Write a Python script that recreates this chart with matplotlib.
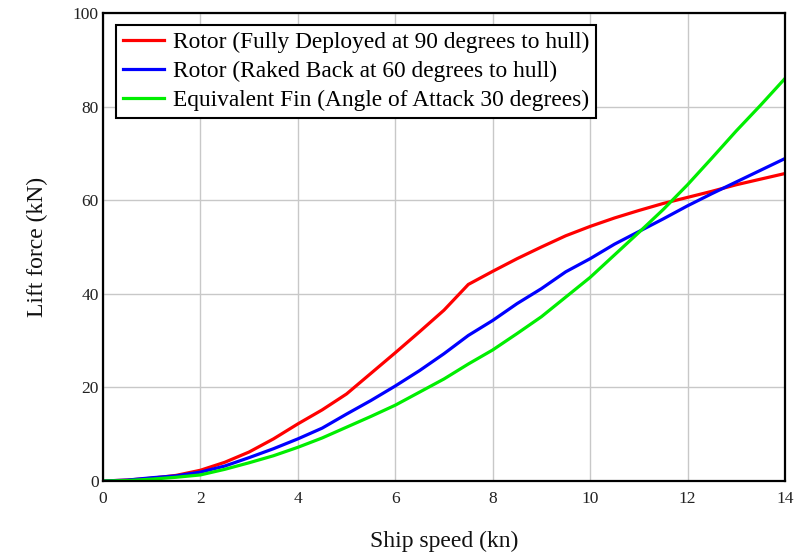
import matplotlib
matplotlib.use("Agg")
import matplotlib.pyplot as plt

speed = [0, 0.5, 1, 1.5, 2, 2.5, 3, 3.5, 4, 4.5, 5, 5.5, 6, 6.5, 7, 7.5, 8,
         8.5, 9, 9.5, 10, 10.5, 11, 11.5, 12, 12.5, 13, 13.5, 14]
rotor_90 = [0, 0.2, 0.6, 1.2, 2.3, 4.0, 6.2, 9.0, 12.2, 15.2, 18.6, 23.0, 27.4,
            31.9, 36.5, 42.0, 44.8, 47.5, 50.0, 52.4, 54.4, 56.2, 57.8, 59.3,
            60.6, 61.9, 63.3, 64.5, 65.7]
rotor_60 = [0, 0.2, 0.7, 1.1, 1.9, 3.2, 5.0, 6.9, 9.0, 11.3, 14.3, 17.2, 20.3,
            23.6, 27.2, 31.1, 34.3, 37.9, 41.1, 44.7, 47.5, 50.6, 53.3, 56.0,
            58.8, 61.4, 63.9, 66.4, 68.9]
fin_30 = [0, 0.1, 0.4, 0.8, 1.3, 2.5, 3.9, 5.4, 7.2, 9.2, 11.5, 13.8, 16.2,
          19.0, 21.8, 25.0, 28.0, 31.5, 35.1, 39.3, 43.5, 48.3, 53.1, 58.0,
          63.3, 69.0, 74.8, 80.3, 86.0]

labels = ["Rotor (Fully Deployed at 90 degrees to hull)",
          "Rotor (Raked Back at 60 degrees to hull)",
          "Equivalent Fin (Angle of Attack 30 degrees)"]
xticks = [0, 2, 4, 6, 8, 10, 12, 14]
yticks = [0, 20, 40, 60, 80, 100]

plt.rcParams['font.family'] = ['Liberation Serif', 'DejaVu Serif']

fig = plt.figure(figsize=(8.12, 5.55), dpi=100)
ax = fig.add_axes([0.1268, 0.1333, 0.8399, 0.8433])

ax.plot(speed, rotor_90, color='#ff0000', lw=2.3, label=labels[0])
ax.plot(speed, rotor_60, color='#0000ff', lw=2.3, label=labels[1])
ax.plot(speed, fin_30, color='#00ee00', lw=2.3, label=labels[2])

ax.set_xlim(0, 14)
ax.set_ylim(0, 100)
ax.set_xticks(xticks)
ax.set_yticks(yticks)
ax.grid(True, color='#c8c8c8', lw=1.0)
ax.set_axisbelow(True)
for s in ax.spines.values():
    s.set_linewidth(1.6)
    s.set_color('black')
ax.tick_params(axis='both', length=0, labelsize=12.5, colors='#222222')
ax.tick_params(axis='x', pad=7)
ax.tick_params(axis='y', pad=3)

ax.set_xlabel("Ship speed (kn)", fontsize=17, labelpad=17, color='#111111')
ax.set_ylabel("Lift force (kN)", fontsize=17, labelpad=18, color='#111111')

leg = ax.legend(loc='upper left', bbox_to_anchor=(0.019, 0.974), fontsize=16.8,
                frameon=True, fancybox=False, edgecolor='black',
                handlelength=1.75, handletextpad=0.4, borderpad=0.3,
                labelspacing=0.32, borderaxespad=0)
leg.get_frame().set_linewidth(1.5)
leg.get_frame().set_alpha(1)

fig.savefig("out.png", dpi=100)
